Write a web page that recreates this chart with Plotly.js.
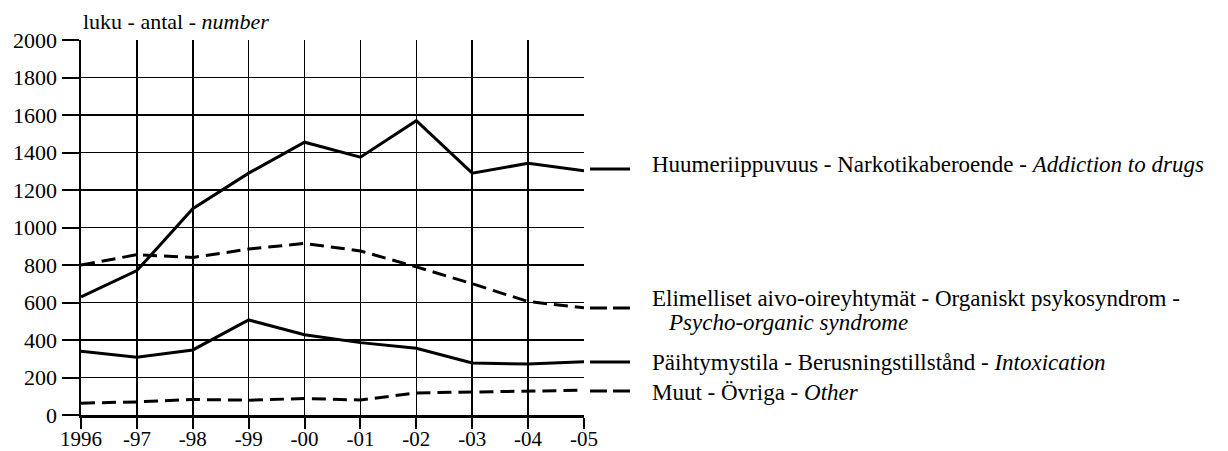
<!DOCTYPE html>
<html>
<head>
<meta charset="utf-8">
<script src="https://cdn.plot.ly/plotly-3.0.1.min.js"></script>
<style>
html,body{margin:0;padding:0;background:#fff;}
#chart{width:1228px;height:451px;}
#chart text, #chart tspan { font-family: "Liberation Serif", "Times New Roman", serif !important; }
</style>
</head>
<body>
<div id="chart"></div>
<script>
const years = [1996, 1997, 1998, 1999, 2000, 2001, 2002, 2003, 2004, 2005];
const yearLabels = ["1996", "-97", "-98", "-99", "-00", "-01", "-02", "-03", "-04", "-05"];
const addiction = [630, 770, 1100, 1290, 1455, 1375, 1570, 1290, 1342, 1302];
const psychoOrganic = [800, 855, 840, 885, 915, 875, 790, 700, 605, 572];
const intoxication = [340, 308, 347, 507, 428, 386, 356, 277, 272, 284];
const other = [63, 70, 83, 79, 88, 80, 118, 123, 126, 132];
const yTicks = [0, 200, 400, 600, 800, 1000, 1200, 1400, 1600, 1800, 2000];

const FONT = "Liberation Serif";
const line = (y, dash) => ({
  x: years, y: y, type: "scatter", mode: "lines", hoverinfo: "skip",
  line: {color: "#000", width: 3, dash: dash}
});
const traces = [
  line(addiction, "solid"),
  line(psychoOrganic, "14px,7px"),
  line(intoxication, "solid"),
  line(other, "14px,7px")
];

const legend = [
  {y: 0.656, ty: 0.667, dash: "solid", text: "Huumeriippuvuus - Narkotikaberoende - <i>Addiction to drugs</i>"},
  {y: 0.2853, ty: 0.312, dash: "17px,6px", text: "Elimelliset aivo-oireyhtymät - Organiskt psykosyndrom -"},
  {y: 0.1413, ty: 0.139, dash: "solid", text: "Päihtymystila - Berusningstillstånd - <i>Intoxication</i>"},
  {y: 0.064, ty: 0.0587, dash: "17px,6px", text: "Muut - Övriga - <i>Other</i>"}
];
const shapes = legend.map(l => ({
  type: "line", xref: "paper", yref: "paper", x0: 1.0119, x1: 1.0915, y0: l.y, y1: l.y,
  line: {color: "#000", width: 3, dash: l.dash}
}));
const annotations = legend.map(l => ({
  xref: "paper", yref: "paper", x: 1.1312, y: l.ty, xanchor: "left", yanchor: "middle",
  text: l.text, showarrow: false, font: {family: FONT, size: 23, color: "#000"}
}));
annotations.push({
  xref: "paper", yref: "paper", x: 1.163, y: 0.248, xanchor: "left", yanchor: "middle",
  text: "<i>Psycho-organic syndrome</i>", showarrow: false, font: {family: FONT, size: 23, color: "#000"}
});
annotations.push({
  xref: "paper", yref: "paper", x: 0.0, y: 1.048, xanchor: "left", yanchor: "middle",
  text: "luku - antal - <i>number</i>", showarrow: false, font: {family: FONT, size: 22, color: "#000"}
});

const layout = {
  width: 1228, height: 451,
  margin: {l: 81, r: 644, t: 40, b: 36},
  paper_bgcolor: "#fff", plot_bgcolor: "#fff",
  showlegend: false,
  font: {family: FONT, size: 22, color: "#000"},
  xaxis: {
    range: [1996, 2005], tickvals: years, ticktext: yearLabels,
    showgrid: true, gridcolor: "#000", gridwidth: 1.5,
    showline: true, linecolor: "#000", linewidth: 2.5,
    ticks: "outside", ticklen: 11, tickwidth: 2, tickcolor: "#000",
    ticklabelstandoff: -8,
    zeroline: false, fixedrange: true,
    tickfont: {family: FONT, size: 21, color: "#000"}
  },
  yaxis: {
    range: [0, 2000], tickvals: yTicks,
    showgrid: true, gridcolor: "#000", gridwidth: 1.5,
    showline: true, linecolor: "#000", linewidth: 2.5,
    ticks: "outside", ticklen: 17, tickwidth: 2, tickcolor: "#000",
    zeroline: false, fixedrange: true,
    tickfont: {family: FONT, size: 22, color: "#000"}
  },
  shapes: shapes,
  annotations: annotations
};
Plotly.newPlot("chart", traces, layout, {displayModeBar: false, staticPlot: true});
</script>
</body>
</html>
